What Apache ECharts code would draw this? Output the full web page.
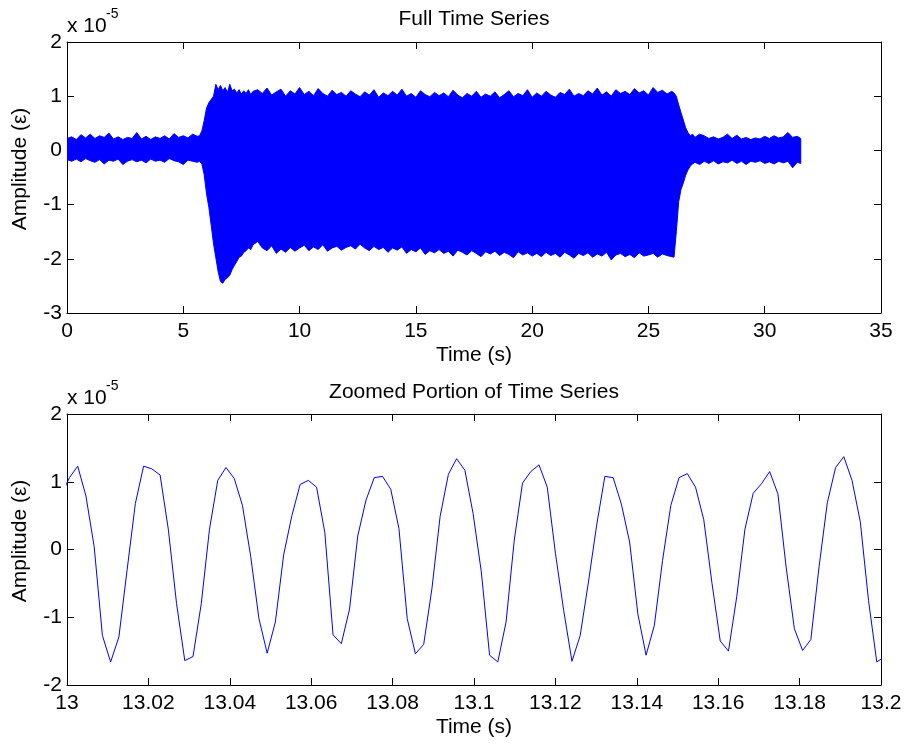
<!DOCTYPE html>
<html><head><meta charset="utf-8">
<script src="https://cdn.jsdelivr.net/npm/echarts@6/dist/echarts.min.js"></script>
<style>html,body{margin:0;padding:0;background:#fff}#c{width:907px;height:745px}</style>
</head><body><div id="c"></div>
<script>
// ---------- Full time series: envelope of the dense signal (values in units of 1e-5) ----------
const fullTime = [
 0,0.2,0.4,0.6,0.8,1,1.2,1.4,1.6,1.8,2,2.2,2.4,2.6,2.8,3,3.2,3.4,3.6,3.8,4,4.2,4.4,4.6,4.8,5,5.2,5.4,5.6,
 5.7,5.8,5.9,6,6.1,6.2,6.3,6.4,6.5,6.6,6.7,6.8,6.9,7,7.1,7.2,7.3,7.4,7.5,7.6,7.7,7.8,7.9,8,
 8.2,8.4,8.6,8.8,9,9.2,9.4,9.6,9.8,10,
 10.2,10.4,10.6,10.8,11,11.2,11.4,11.6,11.8,12,
 12.2,12.4,12.6,12.8,13,13.2,13.4,13.6,13.8,14,
 14.2,14.4,14.6,14.8,15,15.2,15.4,15.6,15.8,16,
 16.2,16.4,16.6,16.8,17,17.2,17.4,17.6,17.8,18,
 18.2,18.4,18.6,18.8,19,19.2,19.4,19.6,19.8,20,
 20.2,20.4,20.6,20.8,21,21.2,21.4,21.6,21.8,22,
 22.2,22.4,22.6,22.8,23,23.2,23.4,23.6,23.8,24,
 24.2,24.4,24.6,24.8,25,25.2,25.4,25.6,25.8,26,
 26.1,26.2,26.3,26.4,26.5,26.6,26.7,26.8,26.9,27,
 27.2,27.4,27.6,27.8,28,28.2,28.4,28.6,28.8,29,29.2,29.4,29.6,29.8,30,30.2,30.4,30.6,30.8,31,31.2,31.4,31.55
];
const fullUpper = [
 0.22,0.25,0.2,0.29,0.23,0.3,0.22,0.27,0.24,0.32,0.21,0.25,0.2,0.24,0.22,0.33,0.21,0.26,0.2,0.25,0.22,0.27,0.21,0.31,0.24,0.27,0.23,0.3,0.26,
 0.27,0.36,0.55,0.78,0.88,0.94,1.0,1.22,1.12,1.2,1.1,1.16,1.07,1.22,1.1,1.13,1.06,1.12,1.04,1.1,1.05,1.12,1.03,1.09,
 1.12,1.05,1.15,1.02,1.08,1.13,1.0,1.1,1.04,1.16,
 1.03,1.09,1.01,1.14,1.05,1.0,1.11,1.03,1.07,1.0,
 1.1,1.04,0.99,1.08,1.02,1.12,0.98,1.06,1.01,1.09,
 1.02,1.13,1.0,1.05,0.98,1.1,1.03,0.99,1.07,1.01,
 1.06,0.99,1.11,1.02,0.97,1.05,1.0,1.09,0.98,1.04,
 1.0,1.08,0.97,1.03,1.1,0.99,1.05,1.01,1.12,0.98,
 1.06,1.0,1.09,1.02,0.98,1.07,1.03,1.13,1.0,1.05,
 1.01,1.1,1.04,1.15,1.02,1.08,1.0,1.12,1.05,1.09,
 1.03,1.14,1.06,1.1,1.02,1.16,1.07,1.11,1.04,1.09,
 1.06,1.0,0.84,0.7,0.56,0.42,0.33,0.27,0.3,0.24,
 0.3,0.27,0.22,0.25,0.21,0.24,0.3,0.22,0.28,0.21,0.24,0.2,0.23,0.21,0.26,0.22,0.27,0.23,0.25,0.33,0.24,0.26,0.22
];
const fullLower = [
 -0.17,-0.2,-0.16,-0.21,-0.15,-0.19,-0.22,-0.17,-0.25,-0.18,-0.2,-0.16,-0.26,-0.2,-0.17,-0.21,-0.18,-0.23,-0.16,-0.2,-0.18,-0.22,-0.15,-0.19,-0.21,-0.26,-0.18,-0.2,-0.22,
 -0.2,-0.25,-0.45,-0.8,-1.05,-1.38,-1.72,-1.98,-2.24,-2.42,-2.45,-2.38,-2.35,-2.3,-2.2,-2.12,-2.05,-1.97,-1.95,-1.88,-1.85,-1.8,-1.83,-1.74,
 -1.68,-1.8,-1.85,-1.76,-1.9,-1.82,-1.88,-1.79,-1.86,-1.8,
 -1.75,-1.85,-1.78,-1.83,-1.74,-1.86,-1.8,-1.77,-1.84,-1.79,
 -1.76,-1.82,-1.73,-1.8,-1.85,-1.77,-1.83,-1.79,-1.88,-1.8,
 -1.84,-1.78,-1.9,-1.83,-1.87,-1.8,-1.92,-1.85,-1.89,-1.83,
 -1.9,-1.86,-1.95,-1.84,-1.88,-1.93,-1.85,-1.9,-1.96,-1.87,
 -1.91,-1.86,-1.94,-1.88,-1.92,-1.98,-1.87,-1.93,-1.89,-1.95,
 -1.9,-1.96,-1.88,-1.94,-1.9,-1.97,-1.88,-1.93,-1.99,-1.9,
 -1.94,-1.89,-1.97,-1.91,-1.95,-1.88,-2.02,-1.93,-1.9,-1.96,
 -1.92,-1.98,-1.89,-1.95,-1.93,-1.9,-1.97,-1.91,-1.94,-1.96,
 -1.97,-1.5,-0.95,-0.72,-0.6,-0.46,-0.36,-0.29,-0.25,-0.22,
 -0.26,-0.2,-0.24,-0.19,-0.25,-0.21,-0.23,-0.18,-0.24,-0.2,-0.26,-0.2,-0.22,-0.19,-0.24,-0.21,-0.25,-0.2,-0.23,-0.2,-0.32,-0.22,-0.24
];

// ---------- Zoomed portion: sampled signal (values in units of 1e-5) ----------
const zoomTime = [
 12.99858,13.00060,13.00263,13.00465,13.00668,13.00870,13.01072,13.01275,13.01477,13.01680,
 13.01882,13.02084,13.02287,13.02489,13.02692,13.02894,13.03096,13.03299,13.03501,13.03704,
 13.03906,13.04108,13.04311,13.04513,13.04716,13.04918,13.05120,13.05323,13.05525,13.05728,
 13.05930,13.06132,13.06335,13.06537,13.06740,13.06942,13.07144,13.07347,13.07549,13.07752,
 13.07954,13.08156,13.08359,13.08561,13.08764,13.08966,13.09168,13.09371,13.09573,13.09776,
 13.09978,13.10180,13.10383,13.10585,13.10788,13.10990,13.11192,13.11395,13.11597,13.11800,
 13.12002,13.12204,13.12407,13.12609,13.12812,13.13014,13.13216,13.13419,13.13621,13.13824,
 13.14026,13.14228,13.14431,13.14633,13.14836,13.15038,13.15240,13.15443,13.15645,13.15848,
 13.16050,13.16252,13.16455,13.16657,13.16860,13.17062,13.17264,13.17467,13.17669,13.17872,
 13.18074,13.18276,13.18479,13.18681,13.18884,13.19086,13.19288,13.19491,13.19693,13.19896,
 13.20098
];
const zoomValue = [
 0.80,1.06,1.23,0.79,0.04,-1.27,-1.66,-1.29,-0.30,0.68,
 1.23,1.19,1.10,0.30,-0.80,-1.64,-1.58,-0.80,0.30,1.02,
 1.21,1.05,0.65,-0.10,-1.02,-1.53,-1.07,-0.08,0.50,0.96,
 1.02,0.92,0.25,-1.26,-1.39,-0.88,0.20,0.73,1.06,1.08,
 0.89,0.31,-1.02,-1.54,-1.40,-0.58,0.49,1.11,1.34,1.17,
 0.53,-0.33,-1.56,-1.66,-1.07,0.14,0.98,1.15,1.25,0.92,
 -0.06,-0.90,-1.65,-1.27,-0.48,0.36,1.08,1.06,0.67,0.11,
 -0.95,-1.56,-1.12,-0.16,0.65,1.06,1.12,0.92,0.44,-0.50,
 -1.35,-1.50,-0.70,0.30,0.83,0.97,1.15,0.82,-0.26,-1.17,
 -1.49,-1.33,-0.25,0.69,1.21,1.37,1.02,0.41,-0.75,-1.66,
 -1.58
];

// ---------- Axis ticks / labels ----------
const fullXTicks = [0,5,10,15,20,25,30,35];
const fullYTicks = [-3,-2,-1,0,1,2];
const zoomXTicks = [13,13.02,13.04,13.06,13.08,13.1,13.12,13.14,13.16,13.18,13.2];
const zoomXTickLabels = ['13','13.02','13.04','13.06','13.08','13.1','13.12','13.14','13.16','13.18','13.2'];
const zoomYTicks = [-2,-1,0,1,2];

const titles = ['Full Time Series','Zoomed Portion of Time Series'];
const xLabel = 'Time (s)';
const yLabel = 'Amplitude (\u03b5)';
const expBase = 'x 10';
const expPow = '-5';

const BLUE = '#0000ff';
const FF = '"Liberation Sans", Arial, Helvetica, sans-serif';
const FS = 21;

function xAx(grid, ticks, pos, showLabel, fmt) {
  return {
    type: 'value', gridIndex: grid, position: pos,
    min: ticks[0], max: ticks[ticks.length - 1], interval: ticks[1] - ticks[0],
    axisLine: { show: true, onZero: false, lineStyle: { color: '#000', width: 1 } },
    axisTick: { show: true, inside: true, length: 7, lineStyle: { color: '#000', width: 1 } },
    splitLine: { show: false },
    axisLabel: { show: showLabel, color: '#000', fontSize: FS, fontFamily: FF, margin: 8, formatter: fmt }
  };
}
function yAx(grid, ticks, pos, showLabel) {
  return {
    type: 'value', gridIndex: grid, position: pos,
    min: ticks[0], max: ticks[ticks.length - 1], interval: ticks[1] - ticks[0],
    axisLine: { show: true, onZero: false, lineStyle: { color: '#000', width: 1 } },
    axisTick: { show: true, inside: true, length: 7, lineStyle: { color: '#000', width: 1 } },
    splitLine: { show: false },
    axisLabel: { show: showLabel, color: '#000', fontSize: FS, fontFamily: FF, margin: 5 }
  };
}
const zoomStep = zoomXTicks[1] - zoomXTicks[0];
const zoomFmt = v => zoomXTickLabels[Math.round((v - zoomXTicks[0]) / zoomStep)] || '';

function txt(x, y, text, size, align, rot) {
  return {
    type: 'text', x: x, y: y, rotation: rot || 0, silent: true,
    style: { text: text, fill: '#000', font: size + 'px ' + FF,
      textAlign: align, textVerticalAlign: 'middle', align: align, verticalAlign: 'middle' }
  };
}

// Band between upper and lower envelope, drawn as one polygon through the axis scale.
function renderBand(params, api) {
  if (params.dataIndex !== 0) return null;
  const pts = [];
  for (let i = 0; i < fullTime.length; i++) pts.push(api.coord([fullTime[i], fullUpper[i]]));
  for (let i = fullTime.length - 1; i >= 0; i--) pts.push(api.coord([fullTime[i], fullLower[i]]));
  return {
    type: 'polygon',
    shape: { points: pts },
    style: { fill: BLUE, stroke: BLUE, lineWidth: 1 }
  };
}

const chart = echarts.init(document.getElementById('c'), null, { renderer: 'canvas' });
chart.setOption({
  animation: false,
  backgroundColor: '#fff',
  grid: [
    { left: 67, top: 42, width: 814, height: 271, containLabel: false },
    { left: 67, top: 414, width: 814, height: 271, containLabel: false }
  ],
  xAxis: [
    xAx(0, fullXTicks, 'bottom', true),
    xAx(0, fullXTicks, 'top', false),
    xAx(1, zoomXTicks, 'bottom', true, zoomFmt),
    xAx(1, zoomXTicks, 'top', false)
  ],
  yAxis: [
    yAx(0, fullYTicks, 'left', true),
    yAx(0, fullYTicks, 'right', false),
    yAx(1, zoomYTicks, 'left', true),
    yAx(1, zoomYTicks, 'right', false)
  ],
  series: [
    { type: 'custom', xAxisIndex: 0, yAxisIndex: 0, clip: true,
      data: fullTime.map((t, i) => [t, fullUpper[i], fullLower[i]]),
      encode: { x: 0, y: [1, 2] },
      renderItem: renderBand },
    { type: 'line', xAxisIndex: 2, yAxisIndex: 2, clip: true,
      data: zoomTime.map((t, i) => [t, zoomValue[i]]), symbol: 'none', showSymbol: false,
      lineStyle: { color: BLUE, width: 1 }, itemStyle: { color: BLUE } }
  ],
  graphic: [
    txt(474, 19, titles[0], FS, 'center'),
    txt(474, 392, titles[1], FS, 'center'),
    txt(474, 355, xLabel, FS, 'center'),
    txt(474, 727, xLabel, FS, 'center'),
    txt(20, 169, yLabel, FS, 'center', Math.PI / 2),
    txt(20, 541, yLabel, FS, 'center', Math.PI / 2),
    txt(67, 26, expBase, FS, 'left'),
    txt(106, 14, expPow, 14, 'left'),
    txt(67, 398, expBase, FS, 'left'),
    txt(106, 386, expPow, 14, 'left')
  ]
});
</script>
</body></html>
